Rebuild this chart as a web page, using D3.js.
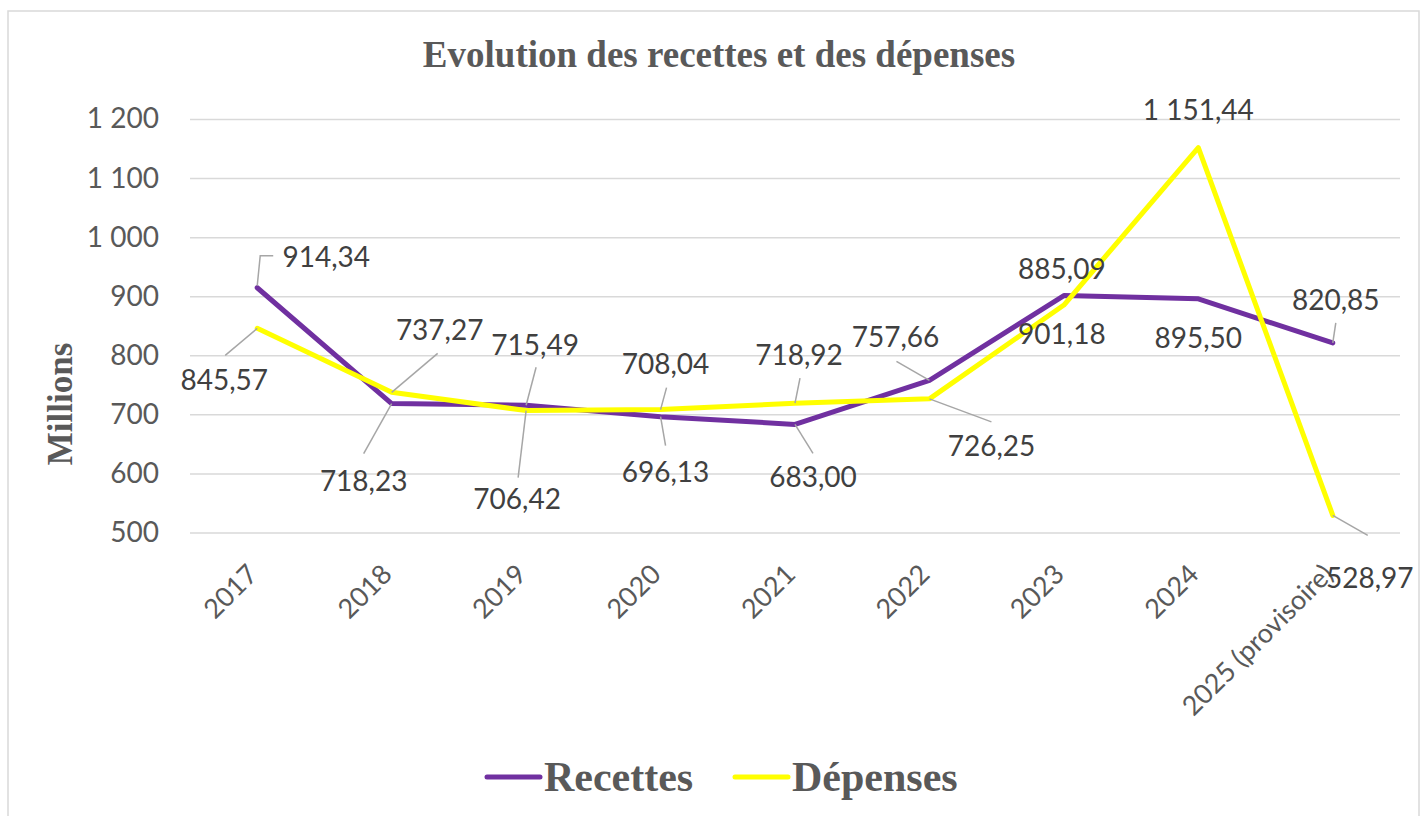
<!DOCTYPE html>
<html>
<head>
<meta charset="utf-8">
<script src="https://cdn.jsdelivr.net/npm/d3@7"></script>
<style>
    body { margin: 0; background: #fff; }
    .grid line { stroke: #d9d9d9; stroke-width: 1.5; }
    .ytick text { font-family: Lato, "Open Sans", sans-serif; font-size: 28px; fill: #595959; }
    .xtick text { font-family: Lato, "Open Sans", sans-serif; font-size: 27px; fill: #595959; }
    .serif { font-family: "Liberation Serif", "Times New Roman", serif; font-weight: bold; fill: #595959; }
    .lbl { font-family: Lato, "Open Sans", sans-serif; font-size: 28px; fill: #404040; }
    .leader { stroke: #a6a6a6; stroke-width: 1.5; fill: none; }
</style>
</head>
<body>
<svg id="canvas" width="1421" height="816"></svg>
<script>
    const years = ["2017", "2018", "2019", "2020", "2021", "2022", "2023", "2024", "2025 (provisoire)"];
    const recettes = [914.34, 718.23, 715.49, 696.13, 683.00, 757.66, 901.18, 895.50, 820.85];
    const depenses = [845.57, 737.27, 706.42, 708.04, 718.92, 726.25, 885.09, 1151.44, 528.97];
    const yTicks = [500, 600, 700, 800, 900, 1000, 1100, 1200];

    // label placement relative to the point: [dx, dy] of text, leader polyline (or null)
    const recLabelPos = [
        { t: [69, -21], l: [[0, -2], [3, -32], [16, -32]] },
        { t: [-28, 87], l: [[0, 0], [-28, 50]] },
        { t: [9, -50], l: [[0, 0], [10, -38]] },
        { t: [5, 65], l: [[0, 0], [5, 29]] },
        { t: [18, 63], l: [[0, 0], [18, 29]] },
        { t: [-34, -33], l: [[0, 0], [-33, -19]] },
        { t: [-2, 48], l: null },
        { t: [0, 49], l: null },
        { t: [3, -33], l: [[0, 0], [3, -20]] }
    ];
    const depLabelPos = [
        { t: [-33, 62], l: [[0, 0], [-32, 27]] },
        { t: [48, -52], l: [[0, 0], [46, -39]] },
        { t: [-9, 98], l: [[0, 0], [-8, 67]] },
        { t: [5, -36], l: [[0, 0], [6, -22]] },
        { t: [4, -38], l: [[0, 0], [5, -25]] },
        { t: [62, 57], l: [[0, 0], [62, 23]] },
        { t: [-2, -26], l: null },
        { t: [0, -28], l: null },
        { t: [37, 73], l: [[0, 0], [35, 20]] }
    ];

    const fr = d3.formatLocale({ decimal: ",", thousands: " ", grouping: [3], currency: ["", " €"] });
    const fmtVal = fr.format(",.2f");
    const fmtTick = fr.format(",d");

    const svg = d3.select("#canvas");

    // chart frame
    svg.append("rect")
        .attr("x", 8).attr("y", 11).attr("width", 1411).attr("height", 820)
        .attr("fill", "#fff").attr("stroke", "#d9d9d9").attr("stroke-width", 1.5);

    const x = d3.scalePoint().domain(years).range([190, 1400]).padding(0.5);
    const y = d3.scaleLinear().domain([500, 1200]).range([532.5, 119]);

    // gridlines + y labels
    const yAxis = svg.append("g")
        .attr("transform", "translate(190,0)")
        .call(d3.axisLeft(y).tickValues(yTicks).tickSize(-1210).tickPadding(31).tickFormat(fmtTick));
    yAxis.select(".domain").remove();
    yAxis.attr("class", "grid ytick");
    yAxis.selectAll("text").attr("font-size", null).attr("font-family", null).attr("fill", null);

    // x labels
    const xAxis = svg.append("g").attr("class", "xtick");
    xAxis.selectAll("text")
        .data(years)
        .enter()
        .append("text")
        .attr("text-anchor", "end")
        .attr("transform", d => `translate(${x(d) + 2},576) rotate(-45)`)
        .text(d => d);

    // lines
    const line = d3.line().x((d, i) => x(years[i])).y(d => y(d));
    svg.append("path").datum(recettes)
        .attr("fill", "none").attr("stroke", "#7030A0").attr("stroke-width", 5)
        .attr("stroke-linejoin", "round").attr("stroke-linecap", "round")
        .attr("d", line);
    svg.append("path").datum(depenses)
        .attr("fill", "none").attr("stroke", "#FFFF00").attr("stroke-width", 5)
        .attr("stroke-linejoin", "round").attr("stroke-linecap", "round")
        .attr("d", line);

    function drawLabels(values, pos) {
        const g = svg.append("g");
        values.forEach((v, i) => {
            const px = x(years[i]), py = y(v);
            const p = pos[i];
            if (p.l) {
                g.append("path").attr("class", "leader")
                    .attr("d", d3.line()(p.l.map(q => [px + q[0], py + q[1]])));
            }
            g.append("text").attr("class", "lbl")
                .attr("text-anchor", "middle")
                .attr("x", px + p.t[0])
                .attr("y", py + p.t[1])
                .text(fmtVal(v));
        });
    }
    drawLabels(recettes, recLabelPos);
    drawLabels(depenses, depLabelPos);

    // title
    svg.append("text").attr("class", "serif")
        .attr("x", 719).attr("y", 67)
        .attr("text-anchor", "middle")
        .attr("font-size", 37)
        .text("Evolution des recettes et des dépenses");

    // y axis title
    svg.append("text").attr("class", "serif")
        .attr("transform", "translate(72,404) rotate(-90)")
        .attr("text-anchor", "middle")
        .attr("font-size", 35)
        .text("Millions");

    // legend
    const legend = [
        { name: "Recettes", color: "#7030A0", x: 487 },
        { name: "Dépenses", color: "#FFFF00", x: 735 }
    ];
    legend.forEach(l => {
        svg.append("line")
            .attr("x1", l.x).attr("x2", l.x + 53).attr("y1", 777).attr("y2", 777)
            .attr("stroke", l.color).attr("stroke-width", 5).attr("stroke-linecap", "round");
        svg.append("text").attr("class", "serif")
            .attr("x", l.x + 57).attr("y", 791)
            .attr("font-size", 42)
            .text(l.name);
    });
</script>
</body>
</html>
